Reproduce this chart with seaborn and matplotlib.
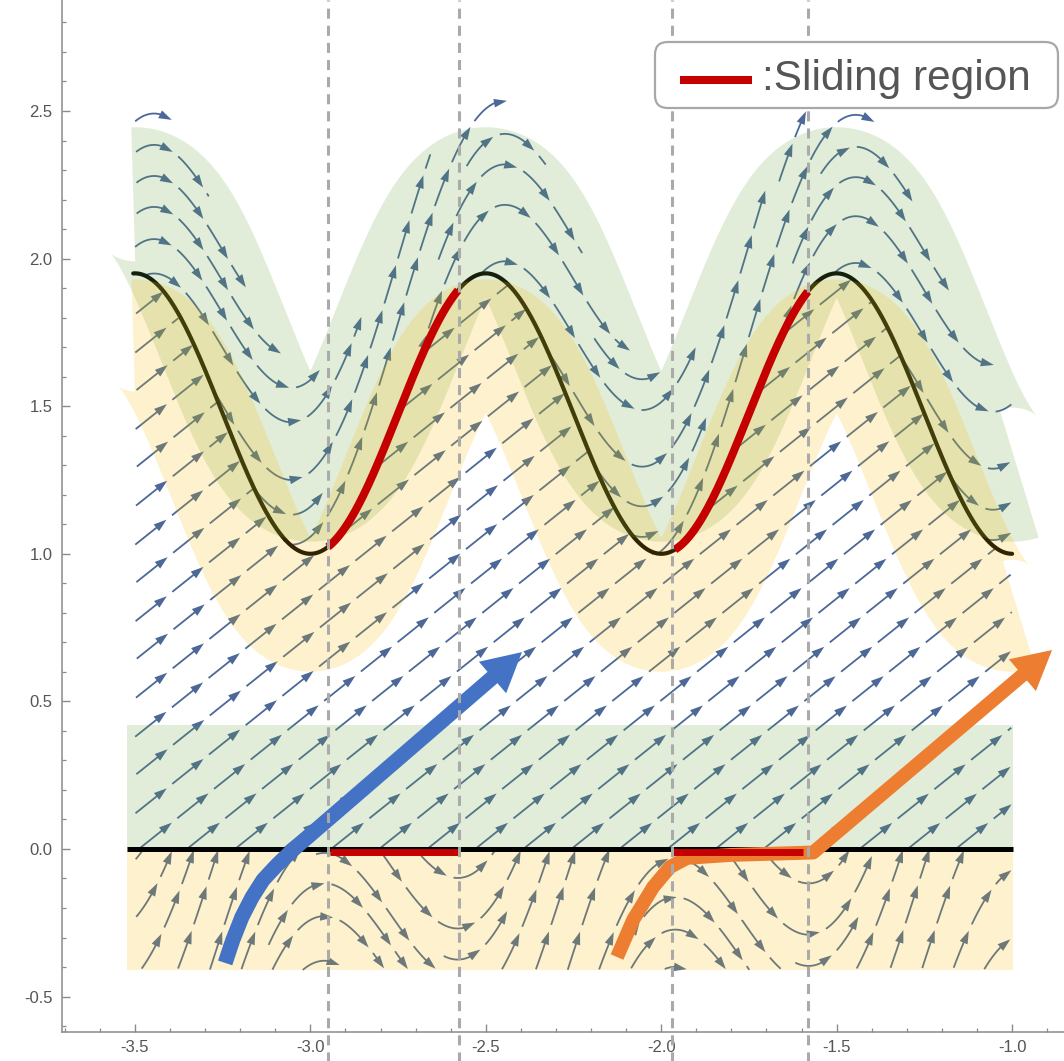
import math
import numpy as np
import matplotlib
matplotlib.use("Agg")
import matplotlib.pyplot as plt
import seaborn as sns
from matplotlib.collections import LineCollection, PolyCollection
from matplotlib.patches import FancyBboxPatch
from matplotlib.lines import Line2D
from matplotlib.ticker import MultipleLocator

# ---------------- data ----------------
curve_mid = 1.475            # switching curve  y = mid - amp*cos(2*pi*x)
curve_amp = 0.475
x_start, x_end = -3.5, -1.0
slope_middle = 0.95          # field between y=0 and the curve: (1, slope)
drift_above = 1.0            # field above the curve: (1, h'(x) + drift)
below_gain = 2.7             # field below y=0: (1, gain*(offset - cos(2*pi*(x-center))))
below_offset = 0.368
below_center = -2.77
above_height = 0.62          # extent of streamlines above the curve
below_depth = -0.41          # lower extent of streamlines below y=0
strip_top = 0.42             # green strip above y=0

sliding_curve = [(-2.95, -2.579), (-1.961, -1.582)]
sliding_zero = [(-2.944, -2.579), (-1.969, -1.596)]
dashed_x = [-2.95, -2.577, -1.969, -1.581]

blue_x = [-3.243, -3.221, -3.195, -3.166, -3.135, -3.095, -3.050, -2.397]
blue_y = [-0.386, -0.308, -0.230, -0.163, -0.105, -0.054, -0.003, 0.667]
orange_x = [-2.126, -2.080, -2.023, -1.975, -1.926, -1.80, -1.567, -0.886]
orange_y = [-0.366, -0.240, -0.129, -0.061, -0.030, -0.020, -0.012, 0.674]

x_ticks = [-3.5, -3.0, -2.5, -2.0, -1.5, -1.0]
y_ticks = [-0.5, 0.0, 0.5, 1.0, 1.5, 2.0, 2.5]
legend_label = ":Sliding region"

# ---------------- style ----------------
sns.set_style("white")
plt.rcParams['font.family'] = ['Liberation Sans', 'DejaVu Sans']
plt.rcParams['axes.unicode_minus'] = False

W, H, DPI = 1064, 1061, 100
fig = plt.figure(figsize=(W / DPI, H / DPI), dpi=DPI)
AX_L, AX_B = 62, 29
ax = fig.add_axes([AX_L / W, AX_B / H, 1 - AX_L / W, 1 - AX_B / H])
XLIM = (-3.708, -0.852)
YLIM = (-0.620, 2.876)
ax.set_xlim(*XLIM)
ax.set_ylim(*YLIM)
AXW, AXH = W - AX_L, H - AX_B
SX = AXW / (XLIM[1] - XLIM[0])
SY = AXH / (YLIM[1] - YLIM[0])

TWO_PI = 2 * math.pi
ARROW_C = '#4b6897'
YELLOW = '#fab905'
GREEN = '#69a541'
RED = '#c40000'
BLUE = '#4472c4'
ORANGE = '#ed7d31'


def h(x):
    return curve_mid - curve_amp * np.cos(TWO_PI * np.asarray(x))


def h_s(x):
    return curve_mid - curve_amp * math.cos(TWO_PI * x)


def dh_s(x):
    return curve_amp * TWO_PI * math.sin(TWO_PI * x)


def field_above(x, y):
    return 1.0, dh_s(x) + drift_above


def field_middle(x, y):
    return 1.0, slope_middle


def field_below(x, y):
    return 1.0, below_gain * (below_offset - math.cos(TWO_PI * (x - below_center)))


def in_above(x, y):
    if not (x_start <= x <= x_end):
        return False
    c = h_s(x)
    return c < y < c + above_height


def in_middle(x, y):
    return x_start <= x <= x_end and 0 < y < h_s(x)


def in_below(x, y):
    return x_start <= x <= x_end and below_depth < y < 0


# ---------------- streamline machinery (pixel space) ----------------
def to_data(a, b):
    return a / SX + XLIM[0], b / SY + YLIM[0]


def unit_dir(field, a, b):
    x, y = to_data(a, b)
    u, v = field(x, y)
    du, dv = u * SX, v * SY
    n = math.hypot(du, dv) or 1.0
    return du / n, dv / n


class Occupancy:
    def __init__(self, cell):
        self.cell = cell
        self.cells = {}

    def add(self, pts):
        c = self.cell
        for p in pts:
            self.cells.setdefault((int(p[0] // c), int(p[1] // c)), []).append(p)

    def near(self, p, d):
        c = self.cell
        cx, cy = int(p[0] // c), int(p[1] // c)
        d2 = d * d
        for i in (cx - 1, cx, cx + 1):
            for j in (cy - 1, cy, cy + 1):
                for q in self.cells.get((i, j), ()):
                    if (q[0] - p[0]) ** 2 + (q[1] - p[1]) ** 2 < d2:
                        return True
        return False


def integrate(seed, field, inside_px, occ, sign, dtest, ds=2.5, nmax=2000):
    pts = [seed]
    p = seed
    for _ in range(nmax):
        d1 = unit_dir(field, *p)
        m = (p[0] + sign * 0.5 * ds * d1[0], p[1] + sign * 0.5 * ds * d1[1])
        d2 = unit_dir(field, *m)
        q = (p[0] + sign * ds * d2[0], p[1] + sign * ds * d2[1])
        if not inside_px(*q) or occ.near(q, dtest):
            break
        pts.append(q)
        p = q
    return pts


def polylen(pts):
    return sum(math.hypot(b[0] - a[0], b[1] - a[1]) for a, b in zip(pts[:-1], pts[1:]))


def build_streamlines(field, inside, dsep, dtest, min_len=12):
    inside_px = lambda a, b: inside(*to_data(a, b))
    occ = Occupancy(dsep)
    lines = []

    def try_seed(s):
        if not inside_px(*s) or occ.near(s, 0.95 * dsep):
            return None
        back = integrate(s, field, inside_px, occ, -1, dtest)
        fwd = integrate(s, field, inside_px, occ, +1, dtest)
        line = back[::-1] + fwd[1:]
        if polylen(line) < min_len:
            return None
        occ.add(line)
        lines.append(line)
        return line

    step = dsep / 2
    for gy in np.arange(step / 2, AXH, step):
        for gx in np.arange(step / 2, AXW, step):
            first = try_seed((gx, gy))
            if first is None:
                continue
            queue = [first]
            while queue:
                L = queue.pop(0)
                for k in range(0, len(L), 3):
                    p = L[k]
                    d = unit_dir(field, *p)
                    for sgn in (1, -1):
                        s = (p[0] - sgn * dsep * d[1], p[1] + sgn * dsep * d[0])
                        new = try_seed(s)
                        if new is not None:
                            queue.append(new)
    return lines


def sample(pts, cum, a, b):
    inner = cum[(cum > a) & (cum < b)]
    ss = np.concatenate([[a], inner, [b]])
    return np.column_stack([np.interp(ss, cum, pts[:, 0]), np.interp(ss, cum, pts[:, 1])])


def draw_stream_arrows(lines, dash=40.0, gap=7.0, hl=13.0, hw=4.3):
    shafts, heads = [], []
    for line in lines:
        pts = np.asarray(line)
        seg = np.hypot(np.diff(pts[:, 0]), np.diff(pts[:, 1]))
        cum = np.concatenate([[0.0], np.cumsum(seg)])
        total = cum[-1]
        s = 0.0
        while s < total - 1.0:
            e = min(s + dash, total)
            with_head = (e - s) >= 18.0
            shaft_end = e - 0.6 * hl if with_head else e
            sp = sample(pts, cum, s, shaft_end)
            shafts.append(np.column_stack(to_data(sp[:, 0], sp[:, 1])))
            if with_head:
                tip = sample(pts, cum, e - 0.01, e)[-1]
                back = sample(pts, cum, e - hl, e - hl + 0.01)[0]
                dv = tip - back
                dv = dv / (np.hypot(*dv) or 1.0)
                base = tip - hl * dv
                perp = np.array([-dv[1], dv[0]])
                tri = np.array([tip, base + hw * perp, base - hw * perp])
                heads.append(np.column_stack(to_data(tri[:, 0], tri[:, 1])))
            s += dash + gap
    ax.add_collection(LineCollection(shafts, colors=ARROW_C, linewidths=1.3,
                                     capstyle='butt', zorder=2))
    ax.add_collection(PolyCollection(heads, facecolors=ARROW_C, edgecolors='none', zorder=2))


for fld, reg in [(field_above, in_above), (field_middle, in_middle), (field_below, in_below)]:
    ls = build_streamlines(fld, reg, dsep=30.0, dtest=15.0)
    draw_stream_arrows(ls)

# ---------------- curve (under the translucent bands) ----------------
xc = np.linspace(x_start - 0.005, x_end, 1200)
sns.lineplot(x=xc, y=h(xc), ax=ax, color='black', linewidth=3.0, sort=False,
             estimator=None, zorder=3)

# ---------------- translucent bands ----------------
xb = np.linspace(-3.505, -0.98, 2000)
ax.plot(xb, h(xb) + 0.268, color=GREEN, lw=96.5, alpha=0.2,
        solid_capstyle='butt', solid_joinstyle='round', zorder=4)
ax.plot(xb, h(xb) - 0.21, color=YELLOW, lw=80.6, alpha=0.2,
        solid_capstyle='butt', solid_joinstyle='round', zorder=4.1)
xr = np.array([-3.523, -0.997])
ax.fill_between(xr, 0, strip_top, color=GREEN, alpha=0.2, lw=0, zorder=4)
ax.fill_between(xr, below_depth, 0, color=YELLOW, alpha=0.2, lw=0, zorder=4)

# ---------------- switching line y=0 and sliding regions ----------------
ax.plot(xr, [0, 0], color='black', lw=3.6, solid_capstyle='butt', zorder=5)
for a, b in sliding_curve:
    xs = np.linspace(a, b, 200)
    ax.plot(xs, h(xs), color=RED, lw=5.8, solid_capstyle='butt', zorder=5.5)


# ---------------- trajectories ----------------
def trajectory(xs, ys, color, lw, head_len_px=32.0):
    xs = list(xs)
    ys = list(ys)
    tip = (xs[-1], ys[-1])
    prev = (xs[-2], ys[-2])
    dpx = np.array([(tip[0] - prev[0]) * SX, (tip[1] - prev[1]) * SY])
    dpx = dpx / np.hypot(*dpx)
    xs[-1] = tip[0] - head_len_px * dpx[0] / SX
    ys[-1] = tip[1] - head_len_px * dpx[1] / SY
    sns.lineplot(x=xs, y=ys, ax=ax, color=color, linewidth=lw, sort=False,
                 estimator=None, solid_capstyle='butt', solid_joinstyle='round', zorder=6)
    ax.annotate('', xy=tip, xytext=prev,
                arrowprops=dict(arrowstyle='-|>,head_length=1.4,head_width=0.75',
                                lw=0, color=color, mutation_scale=20,
                                shrinkA=0, shrinkB=0),
                zorder=6)


trajectory(blue_x, blue_y, BLUE, 10.8)
trajectory(orange_x, orange_y, ORANGE, 10.0)

for a, b in sliding_zero:
    ax.plot([a, b], [-0.01, -0.01], color=RED, lw=5.0, solid_capstyle='butt', zorder=7)

# ---------------- dashed verticals ----------------
for xv in dashed_x:
    ax.axvline(xv, ymin=-0.03, ymax=1.0, color='#aaaaaa', lw=2.2, dashes=(3.3, 2.3),
               clip_on=False, zorder=8)

# ---------------- axes ----------------
for side in ['top', 'right']:
    ax.spines[side].set_visible(False)
for side in ['left', 'bottom']:
    ax.spines[side].set_color('#8a8a8a')
    ax.spines[side].set_linewidth(1.1)
ax.set_xticks(x_ticks, labels=[f"{v:.1f}" for v in x_ticks])
ax.set_yticks(y_ticks, labels=[f"{v:.1f}" for v in y_ticks])
ax.xaxis.set_minor_locator(MultipleLocator(0.1))
ax.yaxis.set_minor_locator(MultipleLocator(0.1))
ax.tick_params(which='both', direction='in', bottom=True, left=True,
               colors='#8a8a8a', labelcolor='#555555')
ax.tick_params(which='major', length=5.5, width=1.0, labelsize=12)
ax.tick_params(which='minor', length=3.0, width=0.9)
ax.tick_params(axis='y', pad=7)
ax.tick_params(axis='x', pad=6)
ax.grid(False)

# ---------------- legend ----------------
box = FancyBboxPatch((655 / W, 1 - 108 / H), (1058 - 655) / W, (108 - 42) / H,
                     boxstyle="round,pad=0,rounding_size=0.012",
                     transform=fig.transFigure, facecolor='white',
                     edgecolor='#a8a8a8', lw=1.6, zorder=10)
fig.add_artist(box)
fig.add_artist(Line2D([680 / W, 752 / W], [1 - 80 / H, 1 - 80 / H], color=RED, lw=5.8,
                      solid_capstyle='butt', transform=fig.transFigure, zorder=11))
fig.text(762 / W, 1 - 79 / H, legend_label, fontsize=30.5, color='#555555',
         ha='left', va='center', zorder=11)

fig.savefig('out.png', dpi=DPI)
